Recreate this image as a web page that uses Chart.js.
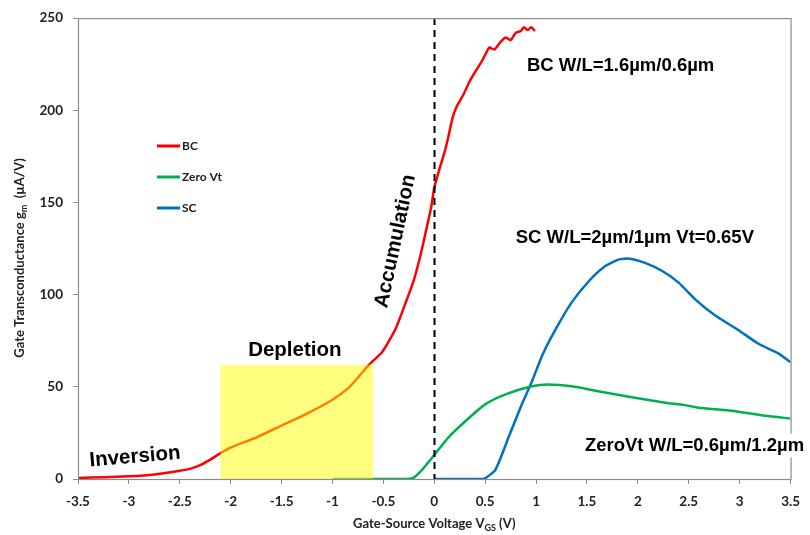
<!DOCTYPE html>
<html>
<head>
<meta charset="utf-8">
<script src="https://cdn.jsdelivr.net/npm/chart.js@4.4.0/dist/chart.umd.min.js"></script>
<style>
  body { margin: 0; background: #fff; }
  #wrap { width: 810px; height: 535px; }
</style>
</head>
<body>
<div id="wrap"><canvas id="gm-chart" width="810" height="535"></canvas></div>
<script>
// Data (V in volts, gm in uA/V)

const bcV = [-3.5, -3.25, -3.0, -2.75, -2.5, -2.4, -2.3, -2.2, -2.1, -2.0, -1.75, -1.5, -1.25, -1.0, -0.85, -0.75, -0.64,
             -0.51, -0.38, -0.28, -0.2, -0.13, -0.08, -0.03, 0, 0.05, 0.1, 0.14, 0.18, 0.22, 0.25, 0.29, 0.35, 0.4, 0.45, 0.5,
             0.54, 0.59, 0.65, 0.7, 0.75, 0.8, 0.85, 0.88, 0.92, 0.95, 0.99];
const bcGm = [0.5, 1, 1.5, 2.5, 4.5, 5.5, 7.5, 10.5, 14, 17, 22.5, 29, 35.5, 43, 49, 55, 62,
              69, 81.5, 95.8, 108, 122.6, 135, 147.6, 158, 168, 177, 186, 196, 202, 205, 209, 216, 220.7, 225, 230,
              234, 233, 237, 239.5, 238, 242, 243, 245, 243.5, 245, 243];

const zeroV = [-1.0, -0.5, -0.3, -0.21, -0.12, 0, 0.14, 0.31, 0.5, 0.7, 0.96, 1.12, 1.35, 1.61, 1.94, 2.27, 2.45, 2.59, 2.92, 3.25, 3.5];
const zeroGm = [0, 0, 0, 0.5, 5, 13, 22.6, 31.6, 40.5, 45.9, 50.3, 51.2, 50.3, 47.6, 44.4, 41.4, 40.2, 38.7, 37, 34.3, 32.8];

const scV = [0, 0.45, 0.5, 0.6, 0.73, 0.86, 0.96, 1.06, 1.19, 1.35, 1.52, 1.68, 1.81, 1.92, 2.07, 2.24, 2.4, 2.56, 2.76, 2.99, 3.18, 3.38, 3.5];
const scGm = [0, 0, 0.4, 5, 22.6, 40.5, 53, 67, 81, 95.8, 107.4, 115.5, 119, 119.5, 117.2, 112.8, 106.5, 97.6, 88.7, 80.7, 73.5, 68.1, 63.3];

const seriesNames = ['BC', 'Zero Vt', 'SC'];
const seriesColors = ['#ff0000', '#00b050', '#0070c0'];

const xTicksMin = -3.5, xTicksMax = 3.5, xStep = 0.5;
const yTicksMin = 0, yTicksMax = 250, yStep = 50;

// depletion box (V range and height), dashed line at V=0
const depletionV = [-2.1, -0.6];
const depletionTop = 62;

const toPoints = (xs, ys) => xs.map((x, i) => ({x: x, y: ys[i]}));

const labelFont = 'bold 13px Lato, "Open Sans", sans-serif';
const noteFont = 'bold 18.5px "Liberation Sans", Arial, sans-serif';

// Plugin for box, dashed line, notes, legend and axis titles
const extras = {
    id: 'extras',
    afterDatasetsDraw(chart) {
        const ctx = chart.ctx, xs = chart.scales.x, ys = chart.scales.y, a = chart.chartArea;

        // yellow depletion box (transparent so the red shows orange)
        ctx.save();
        ctx.fillStyle = 'rgba(255,255,0,0.5)';
        const bx = xs.getPixelForValue(depletionV[0]), bx2 = xs.getPixelForValue(depletionV[1]);
        const by = ys.getPixelForValue(depletionTop), by2 = ys.getPixelForValue(0);
        ctx.fillRect(bx, by, bx2 - bx, by2 - by);
        ctx.restore();

        // dashed line at 0
        ctx.save();
        ctx.strokeStyle = '#000';
        ctx.lineWidth = 2;
        ctx.setLineDash([7, 5]);
        ctx.beginPath();
        const zx = Math.round(xs.getPixelForValue(0)) + 0.5;
        ctx.moveTo(zx, a.top);
        ctx.lineTo(zx, a.bottom);
        ctx.stroke();
        ctx.restore();

        // frame
        ctx.save();
        ctx.strokeStyle = '#8c8c8c';
        ctx.lineWidth = 1.2;
        ctx.strokeRect(a.left + 0.5, a.top + 0.5, a.right - a.left, a.bottom - a.top);
        ctx.restore();
    },
    afterDraw(chart) {
        const ctx = chart.ctx, xs = chart.scales.x, ys = chart.scales.y, a = chart.chartArea;
        const px = v => xs.getPixelForValue(v), py = v => ys.getPixelForValue(v);

        ctx.save();
        ctx.fillStyle = '#000';
        ctx.font = noteFont;
        ctx.textBaseline = 'middle';
        ctx.textAlign = 'left';
        ctx.fillText('BC W/L=1.6\u00b5m/0.6\u00b5m', px(0.91), py(224));
        ctx.fillText('SC W/L=2\u00b5m/1\u00b5m Vt=0.65V', px(0.8), py(130.6));

        // ZeroVt label sits on a white box over the frame
        const zt = 'ZeroVt W/L=0.6\u00b5m/1.2\u00b5m';
        const zw = ctx.measureText(zt).width;
        ctx.fillStyle = '#fff';
        ctx.fillRect(px(1.46), py(18.2) - 12, zw + 6, 24);
        ctx.fillStyle = '#000';
        ctx.fillText(zt, px(1.48), py(18.2));

        ctx.font = 'bold 20.5px "Liberation Sans", Arial, sans-serif';
        ctx.textAlign = 'center';
        ctx.fillText('Depletion', px(-1.37), py(70));

        ctx.save();
        ctx.translate(px(-2.94), py(12));
        ctx.rotate(-5 * Math.PI / 180);
        ctx.fillText('Inversion', 0, 0);
        ctx.restore();

        ctx.save();
        ctx.translate(px(-0.38), py(129));
        ctx.rotate(-78 * Math.PI / 180);
        ctx.fillText('Accumulation', 0, 0);
        ctx.restore();

        // legend
        ctx.font = 'bold 12px Lato, "Open Sans", sans-serif';
        ctx.textAlign = 'left';
        chart.data.datasets.forEach((ds, i) => {
            const ly = 146 + i * 31;
            ctx.strokeStyle = ds.borderColor;
            ctx.lineWidth = 3;
            ctx.beginPath();
            ctx.moveTo(157, ly);
            ctx.lineTo(180, ly);
            ctx.stroke();
            ctx.fillStyle = '#222';
            ctx.fillText(ds.label, 182, ly);
        });

        // axis titles with subscripts
        ctx.fillStyle = '#222';
        const drawSub = (parts, cx, cy) => {
            let w = 0;
            parts.forEach(p => { ctx.font = p[1] ? 'bold 9px Lato, sans-serif' : labelFont; w += ctx.measureText(p[0]).width; });
            let x = cx - w / 2;
            parts.forEach(p => {
                ctx.font = p[1] ? 'bold 9px Lato, sans-serif' : labelFont;
                ctx.fillText(p[0], x, p[1] ? cy + 4 : cy);
                x += ctx.measureText(p[0]).width;
            });
        };
        ctx.textAlign = 'left';
        drawSub([['Gate-Source Voltage V', false], ['GS', true], [' (V)', false]], (a.left + a.right) / 2, 524);

        ctx.save();
        ctx.translate(20, 258);
        ctx.rotate(-Math.PI / 2);
        drawSub([['Gate Transconductance g', false], ['m', true], ['  (\u00b5A/V)', false]], 0, 0);
        ctx.restore();

        ctx.restore();
    }
};

const tickFont = {family: 'Lato, "Open Sans", sans-serif', size: 13.5, weight: 'bold'};

const canvas = document.getElementById('gm-chart');
const chart = new Chart(canvas.getContext('2d'), {
    type: 'line',
    data: {
        datasets: [
            {label: seriesNames[0], data: toPoints(bcV, bcGm), borderColor: seriesColors[0]},
            {label: seriesNames[1], data: toPoints(zeroV, zeroGm), borderColor: seriesColors[1]},
            {label: seriesNames[2], data: toPoints(scV, scGm), borderColor: seriesColors[2]}
        ].map(ds => Object.assign(ds, {
            borderWidth: 2.5,
            pointRadius: 0,
            fill: false,
            tension: 0.2
        }))
    },
    options: {
        responsive: false,
        animation: false,
        layout: {padding: {left: 0, right: 16, top: 12, bottom: 0}},
        plugins: {legend: {display: false}, tooltip: {enabled: false}},
        scales: {
            x: {
                type: 'linear',
                min: xTicksMin, max: xTicksMax,
                grid: {drawOnChartArea: false, drawTicks: true, tickLength: 5, color: '#8c8c8c'},
                border: {color: '#8c8c8c'},
                ticks: {stepSize: xStep, padding: 10, color: '#222', font: tickFont, maxRotation: 0,
                        callback: v => String(Number(v.toFixed(1)))},
                afterFit: s => { s.height = 56; }
            },
            y: {
                min: yTicksMin, max: yTicksMax,
                grid: {drawOnChartArea: false, drawTicks: true, tickLength: 5, color: '#8c8c8c'},
                border: {color: '#8c8c8c'},
                ticks: {stepSize: yStep, padding: 10, color: '#222', font: tickFont},
                afterFit: s => { s.width = 78; }
            }
        }
    },
    plugins: [extras]
});
</script>
</body>
</html>
